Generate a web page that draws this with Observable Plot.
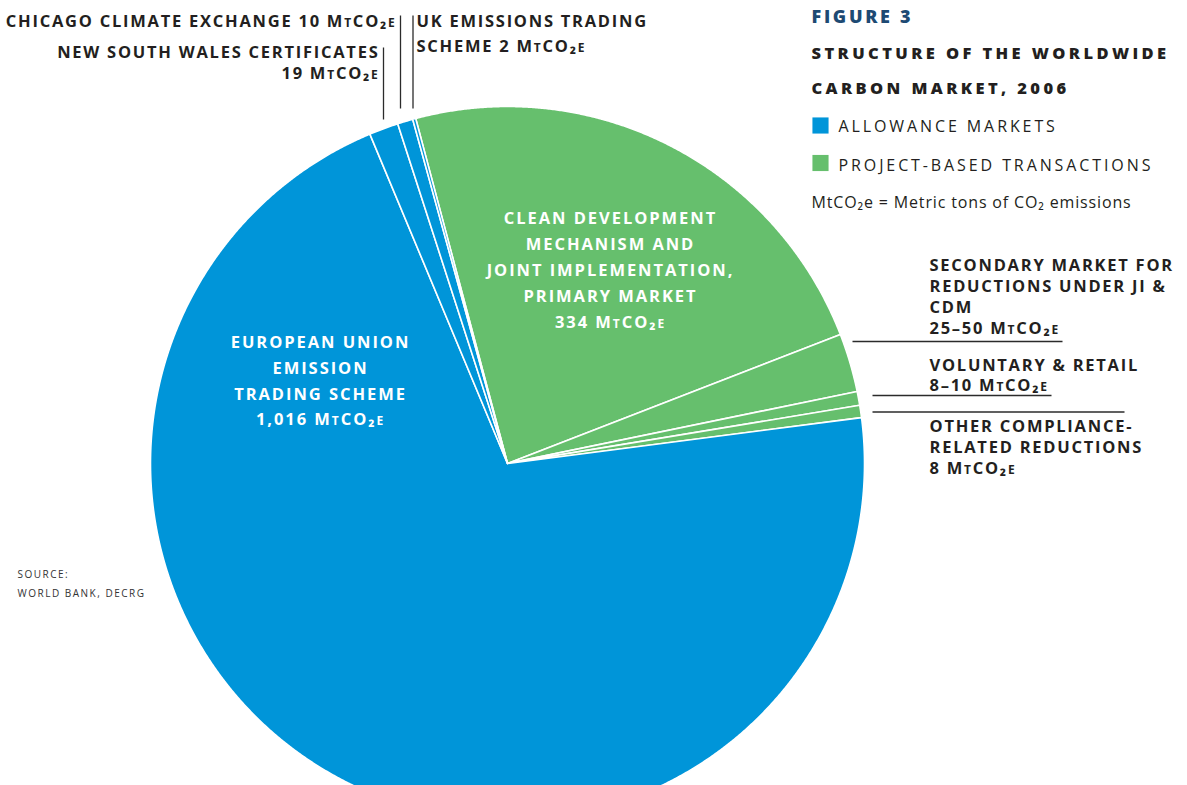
<!DOCTYPE html>
<html>
<head>
<meta charset="utf-8">
<script src="https://cdn.jsdelivr.net/npm/d3@7"></script>
<script src="https://cdn.jsdelivr.net/npm/@observablehq/plot@0.6"></script>
<style>
  html, body { margin: 0; padding: 0; background: #fff; }
  #chart svg { display: block; font-family: "Open Sans", Lato, sans-serif; }
  g[aria-description="ls"] { letter-spacing: 1.75px; }
  g[aria-description="ls-in"] { letter-spacing: 1.95px; }
  g[aria-description="tt"] { letter-spacing: 3.4px; }
  g[aria-description="fig"] { letter-spacing: 2.7px; }
  g[aria-description="lg"] { letter-spacing: 2.9px; }
  g[aria-description="nt"] { letter-spacing: 0.85px; }
  g[aria-description="sc"] { letter-spacing: 1.5px; }
</style>
</head>
<body>
<div id="chart"></div>
<script>
// ---- Data ----
const segments = [
  "Clean Development Mechanism and Joint Implementation, primary market",
  "Secondary market for reductions under JI & CDM",
  "Voluntary & retail",
  "Other compliance-related reductions",
  "European Union Emission Trading Scheme",
  "New South Wales certificates",
  "Chicago Climate Exchange",
  "UK Emissions Trading Scheme"
];
const values = [334, 38, 9, 8, 1016, 19, 10, 2]; // MtCO2e
const marketTypes = [
  "Project-based transactions", "Project-based transactions", "Project-based transactions", "Project-based transactions",
  "Allowance markets", "Allowance markets", "Allowance markets", "Allowance markets"
];
const legendLabels = ["Allowance markets", "Project-based transactions"];
const legendColors = ["#0095d9", "#66bf6d"];

// ---- Layout ----
const W = 1187, H = 785, CX = 507, CY = 463, R = 357;
const P = (px, py) => ({x: (px - CX) / R, y: (CY - py) / R});
// position by first-line baseline (Plot's top anchor puts baseline at 0.71*lineHeight em below y)
const B = (px, base, lh, size) => P(px, base - 0.71 * lh * size);
const startAngle = -14.9 * Math.PI / 180;

const arcs = d3.pie().sort(null).startAngle(startAngle).endAngle(startAngle + 2 * Math.PI)(values);
const slicePts = [];
arcs.forEach((a, i) => {
  const key = segments[i], type = marketTypes[i];
  slicePts.push({key, type, x: 0, y: 0});
  const n = Math.max(2, Math.ceil((a.endAngle - a.startAngle) / 0.004));
  for (let k = 0; k <= n; k++) {
    const t = a.startAngle + (a.endAngle - a.startAngle) * k / n;
    slicePts.push({key, type, x: Math.sin(t), y: Math.cos(t)});
  }
});

const FS = 16.5;
const labelColor = "#231f20";
const LH_IN = 25.8 / FS, LH_NSW = 21 / FS, LH_UK = 25 / FS, LH_R = 21 / FS;

const insideLabels = [
  {...B(320, 347.5, LH_IN, FS), text: "EUROPEAN UNION\nEMISSION\nTRADING SCHEME\n1,016 MtCO₂e"},
  {...B(610, 224, LH_IN, FS), text: "CLEAN DEVELOPMENT\nMECHANISM AND\nJOINT IMPLEMENTATION,\nPRIMARY MARKET\n334 MtCO₂e"}
];
const chicagoLabel = [{...B(396, 26.7, 1, FS), text: "CHICAGO CLIMATE EXCHANGE 10 MtCO₂e"}];
const nswLabel = [{...B(379, 57.5, LH_NSW, FS), text: "NEW SOUTH WALES CERTIFICATES\n19 MtCO₂e"}];
const ukLabel = [{...B(416, 26.7, LH_UK, FS), text: "UK EMISSIONS TRADING\nSCHEME 2 MtCO₂e"}];
const rightLabels = [
  {...B(929, 270.7, LH_R, FS), text: "SECONDARY MARKET FOR\nREDUCTIONS UNDER JI &\nCDM\n25–50 MtCO₂e"},
  {...B(929, 370, LH_R, FS), text: "VOLUNTARY & RETAIL\n8–10 MtCO₂e"},
  {...B(929, 431.7, LH_R, FS), text: "OTHER COMPLIANCE-\nRELATED REDUCTIONS\n8 MtCO₂e"}
];
const leaders = [
  {a: P(383, 47), b: P(383, 119)},
  {a: P(400, 15), b: P(400, 108)},
  {a: P(412.5, 15), b: P(412.5, 108)},
  {a: P(852, 341), b: P(1062, 341)},
  {a: P(872, 395), b: P(1051, 395)},
  {a: P(872, 411.5), b: P(1124, 411.5)}
];
const legendItems = legendLabels.map((l, i) => ({...P(820, 125 + 37.5 * i), label: l}));
const legendTexts = legendLabels.map((l, i) => ({...B(838, 131.7 + 38.3 * i, 1, 16), text: l.toUpperCase()}));

const common = {x: "x", y: "y", text: "text", lineAnchor: "top"};

const chart = Plot.plot({
  width: W, height: H,
  marginTop: 0, marginRight: 0, marginBottom: 0, marginLeft: 0,
  x: {domain: [-CX / R, (W - CX) / R], range: [0, W], axis: null},
  y: {domain: [-(H - CY) / R, CY / R], range: [H, 0], axis: null},
  color: {domain: legendLabels, range: legendColors},
  marks: [
    Plot.line(slicePts, {x: "x", y: "y", z: "key", fill: "type", stroke: "white", strokeWidth: 1.6, curve: "linear-closed"}),
    Plot.link(leaders, {x1: d => d.a.x, y1: d => d.a.y, x2: d => d.b.x, y2: d => d.b.y, stroke: "#2b2b2b", strokeWidth: 1.3}),
    Plot.text(insideLabels, {...common, fill: "white", fontSize: FS, fontWeight: "bold", textAnchor: "middle", lineHeight: LH_IN, fontVariant: "small-caps", ariaDescription: "ls-in"}),
    Plot.text(chicagoLabel, {...common, fill: labelColor, fontSize: FS, fontWeight: "bold", textAnchor: "end", lineHeight: 1, fontVariant: "small-caps", ariaDescription: "ls"}),
    Plot.text(nswLabel, {...common, fill: labelColor, fontSize: FS, fontWeight: "bold", textAnchor: "end", lineHeight: LH_NSW, fontVariant: "small-caps", ariaDescription: "ls"}),
    Plot.text(ukLabel, {...common, fill: labelColor, fontSize: FS, fontWeight: "bold", textAnchor: "start", lineHeight: LH_UK, fontVariant: "small-caps", ariaDescription: "ls"}),
    Plot.text(rightLabels, {...common, fill: labelColor, fontSize: FS, fontWeight: "bold", textAnchor: "start", lineHeight: LH_R, fontVariant: "small-caps", ariaDescription: "ls"}),
    // Title
    Plot.text([{...B(811, 22.7, 1, 18), text: "FIGURE 3"}], {...common, fill: "#1d4a73", fontSize: 18, fontWeight: 800, textAnchor: "start", lineHeight: 1, ariaDescription: "fig"}),
    Plot.text([{...B(811, 58.3, 2.12, 16.5), text: "STRUCTURE OF THE WORLDWIDE\nCARBON MARKET, 2006"}], {...common, fill: labelColor, fontSize: 16.5, fontWeight: 800, textAnchor: "start", lineHeight: 2.12, ariaDescription: "tt"}),
    // Legend
    Plot.dot(legendItems, {x: "x", y: "y", fill: "label", symbol: "square", r: 9.1}),
    Plot.text(legendTexts, {...common, fill: labelColor, fontSize: 16, textAnchor: "start", lineHeight: 1, ariaDescription: "lg"}),
    Plot.text([{...B(811, 207, 1, 16), text: "MtCO₂e = Metric tons of CO₂ emissions"}], {...common, fill: labelColor, fontSize: 16, textAnchor: "start", lineHeight: 1, ariaDescription: "nt"}),
    // Source
    Plot.text([{...B(17, 577.3, 1.94, 10), text: "SOURCE:\nWORLD BANK, DECRG"}], {...common, fill: "#333", fontSize: 10, textAnchor: "start", lineHeight: 1.94, ariaDescription: "sc"})
  ]
});
document.getElementById("chart").appendChild(chart);
</script>
</body>
</html>
